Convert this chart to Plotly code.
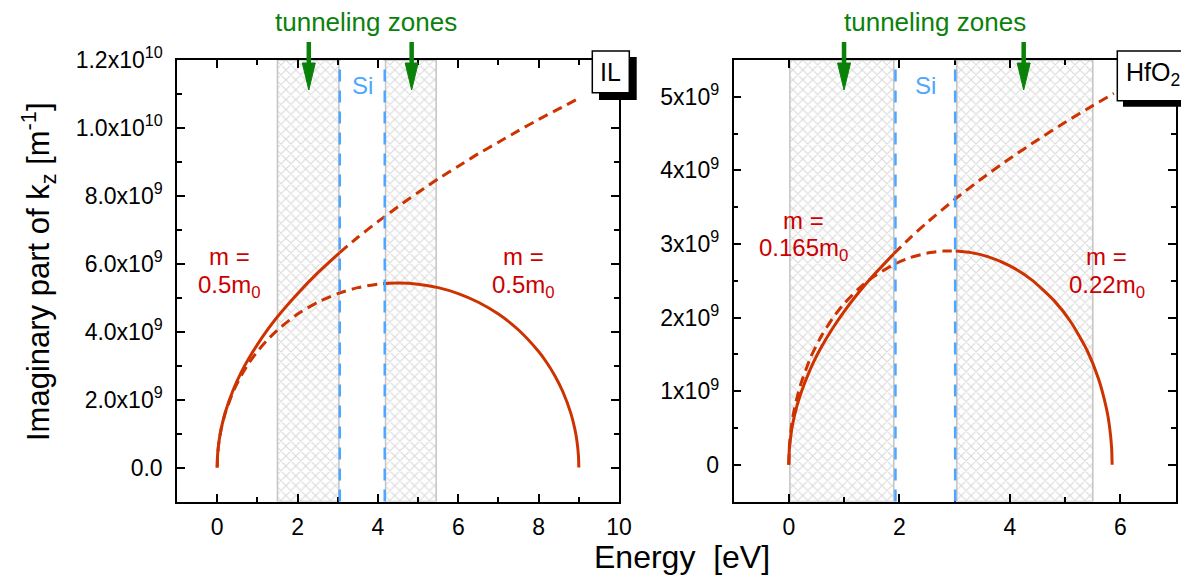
import plotly.graph_objects as go

W, H = 1189, 581
OFF = 8  # default page body margin of the generated html
FW, FH = W - OFF, H - OFF
FONT = "Liberation Sans, Arial, sans-serif"
CURVE = "#CC3300"
LABEL_RED = "#CC0000"
GREEN = "#0a820a"
BLUE = "#4da6ff"

# ---------------- data: IL panel (m = 0.5 m0) ----------------
il_par_E_solid = [0, 0.01, 0.02, 0.05, 0.1, 0.2, 0.4, 0.6, 0.8, 1.0, 1.25, 1.5, 2.0, 2.5, 3.05]
il_par_k_solid = [0, 0.362e9, 0.512e9, 0.81e9, 1.145e9, 1.62e9, 2.29e9, 2.81e9, 3.24e9, 3.62e9,
                  4.05e9, 4.44e9, 5.12e9, 5.73e9, 6.33e9]
il_par_E_dash = [3.05, 3.5, 4.0, 4.5, 5.0, 5.5, 6.0, 6.5, 7.0, 7.5, 8.0, 8.5, 9.0]
il_par_k_dash = [6.33e9, 6.78e9, 7.24e9, 7.68e9, 8.10e9, 8.50e9, 8.87e9, 9.24e9, 9.58e9,
                 9.92e9, 10.25e9, 10.56e9, 10.87e9]
il_tb_E_dash = [0, 0.01, 0.05, 0.1, 0.2, 0.4, 0.6, 0.8, 1.0, 1.25, 1.5, 2.0, 2.5, 3.0, 3.5, 4.0, 4.17]
il_tb_k_dash = [0, 0.362e9, 0.808e9, 1.139e9, 1.602e9, 2.239e9, 2.711e9, 3.093e9, 3.415e9,
                3.758e9, 4.050e9, 4.518e9, 4.867e9, 5.123e9, 5.298e9, 5.400e9, 5.419e9]
il_tb_E_solid = [4.17, 4.5, 5.0, 5.5, 6.0, 6.5, 7.0, 7.5, 8.0, 8.2, 8.4, 8.6, 8.8, 8.9, 8.95, 8.99, 9.0]
il_tb_k_solid = [5.419e9, 5.433e9, 5.400e9, 5.298e9, 5.123e9, 4.867e9, 4.518e9, 4.050e9,
                 3.415e9, 3.093e9, 2.711e9, 2.239e9, 1.602e9, 1.139e9, 0.808e9, 0.362e9, 0]
il_zones = [(1.5, 3.03), (4.19, 5.45)]
il_si_edges = [3.05, 4.17]
il_arrows = [2.28, 4.84]

# ---------------- data: HfO2 panel ----------------
hf_par_E_solid = [0, 0.01, 0.05, 0.1, 0.2, 0.4, 0.6, 0.8, 1.0, 1.25, 1.5, 1.9]
hf_par_k_solid = [0, 0.208e9, 0.465e9, 0.658e9, 0.931e9, 1.316e9, 1.612e9, 1.861e9, 2.081e9,
                  2.326e9, 2.548e9, 2.868e9]
hf_par_E_dash = [1.9, 2.2, 2.5, 3.0, 3.5, 4.0, 4.5, 5.0, 5.5, 5.88]
hf_par_k_dash = [2.868e9, 3.086e9, 3.290e9, 3.604e9, 3.893e9, 4.162e9, 4.414e9, 4.653e9,
                 4.880e9, 5.046e9]
hf_tb_E_dash = [0, 0.01, 0.05, 0.1, 0.2, 0.4, 0.6, 0.8, 1.0, 1.25, 1.5, 1.9, 2.2, 2.5, 2.8, 3.02]
hf_tb_k_dash = [0, 0.240e9, 0.535e9, 0.753e9, 1.056e9, 1.467e9, 1.763e9, 1.997e9, 2.188e9,
                2.382e9, 2.538e9, 2.721e9, 2.815e9, 2.875e9, 2.903e9, 2.904e9]
hf_tb_E_solid = [3.02, 3.3, 3.6, 4.0, 4.4, 4.8, 5.1, 5.4, 5.6, 5.75, 5.8, 5.84, 5.85]
hf_tb_k_solid = [2.904e9, 2.882e9, 2.827e9, 2.702e9, 2.509e9, 2.230e9, 1.943e9, 1.549e9,
                 1.175e9, 0.753e9, 0.535e9, 0.240e9, 0]
hf_zones = [(0.02, 1.9), (3.04, 5.5)]
hf_si_edges = [1.93, 3.01]
hf_arrows = [1.0, 4.25]

# tick labels
il_yvals = [0, 2e9, 4e9, 6e9, 8e9, 1e10, 1.2e10]
il_ytext = ["0.0", "2.0x10<sup>9</sup>", "4.0x10<sup>9</sup>", "6.0x10<sup>9</sup>",
            "8.0x10<sup>9</sup>", "1.0x10<sup>10</sup>", "1.2x10<sup>10</sup>"]
hf_yvals = [0, 1e9, 2e9, 3e9, 4e9, 5e9]
hf_ytext = ["0", "1x10<sup>9</sup>", "2x10<sup>9</sup>", "3x10<sup>9</sup>",
            "4x10<sup>9</sup>", "5x10<sup>9</sup>"]
il_xvals = [0, 2, 4, 6, 8, 10]
hf_xvals = [0, 2, 4, 6]

IL_XR, IL_YR = [-1, 10], [-1e9, 1.2e10]
HF_XR, HF_YR = [-1, 7], [-0.5e9, 5.5e9]


def px(x):
    return (x - OFF) / FW


def py(y):
    return 1 - (y - OFF) / FH


fig = go.Figure()


def add_panel(xa, ya, zones, yr, curves):
    for (a, b) in zones:
        fig.add_trace(go.Scatter(
            x=[a, b, b, a, a], y=[yr[0], yr[0], yr[1], yr[1], yr[0]],
            xaxis=xa, yaxis=ya, mode="lines", fill="toself",
            fillcolor="rgba(0,0,0,0)",
            line=dict(color="#c4c4c4", width=1.5),
            fillpattern=dict(shape="x", fgcolor="#b4b4b4", bgcolor="rgba(255,255,255,0)",
                             size=7, solidity=0.3),
            hoverinfo="skip", showlegend=False))
    for (xs, ys, dash) in curves:
        fig.add_trace(go.Scatter(
            x=xs, y=ys, xaxis=xa, yaxis=ya, mode="lines",
            line=dict(color=CURVE, width=3, dash=dash, shape="spline", smoothing=0.6),
            showlegend=False))


add_panel("x", "y", il_zones, IL_YR, [
    (il_tb_E_dash, il_tb_k_dash, "10px,6px"),
    (il_tb_E_solid, il_tb_k_solid, "solid"),
    (il_par_E_dash, il_par_k_dash, "10px,6px"),
    (il_par_E_solid, il_par_k_solid, "solid"),
])
add_panel("x2", "y2", hf_zones, HF_YR, [
    (hf_tb_E_dash, hf_tb_k_dash, "10px,6px"),
    (hf_tb_E_solid, hf_tb_k_solid, "solid"),
    (hf_par_E_dash, hf_par_k_dash, "10px,6px"),
    (hf_par_E_solid, hf_par_k_solid, "solid"),
])

axis_common = dict(showline=True, linecolor="black", linewidth=1.5, mirror="allticks",
                   ticks="inside", ticklen=8, tickwidth=1.5, tickcolor="black",
                   showgrid=False, zeroline=False, automargin=False,
                   tickfont=dict(family=FONT, size=23, color="black"))
ydom = [py(501.5), py(60)]
fig.update_layout(
    xaxis=dict(domain=[px(177), px(619)], range=IL_XR, tickvals=il_xvals, anchor="y",
               minor=dict(dtick=1, tick0=0, ticks="inside", ticklen=5, tickwidth=1.5,
                          tickcolor="black"), ticklabelstandoff=4, **axis_common),
    yaxis=dict(domain=ydom, range=IL_YR, tickvals=il_yvals, ticktext=il_ytext, anchor="x",
               minor=dict(dtick=1e9, tick0=0, ticks="inside", ticklen=5, tickwidth=1.5,
                          tickcolor="black"), ticklabelstandoff=8, **axis_common),
    xaxis2=dict(domain=[px(733.5), px(1175.7)], range=HF_XR, tickvals=hf_xvals, anchor="y2",
                minor=dict(dtick=1, tick0=0, ticks="inside", ticklen=5, tickwidth=1.5,
                           tickcolor="black"), ticklabelstandoff=4, **axis_common),
    yaxis2=dict(domain=ydom, range=HF_YR, tickvals=hf_yvals, ticktext=hf_ytext, anchor="x2",
                minor=dict(dtick=0.5e9, tick0=0, ticks="inside", ticklen=5, tickwidth=1.5,
                           tickcolor="black"), ticklabelstandoff=8, **axis_common),
)

shapes = []
annotations = []

# Si band-edge dashed lines
for xa, edges in (("x", il_si_edges), ("x2", hf_si_edges)):
    for e in edges:
        shapes.append(dict(type="line", xref=xa, yref=("y domain" if xa == "x" else "y2 domain"),
                           x0=e, x1=e, y0=0, y1=1,
                           line=dict(color=BLUE, width=2.5, dash="12px,9px")))
    annotations.append(dict(xref=xa, yref="paper", x=sum(edges) / 2, y=py(85), text="Si",
                            showarrow=False, font=dict(family=FONT, size=24, color=BLUE),
                            xanchor="center", yanchor="middle"))

# green arrows
for xa, arr in (("x", il_arrows), ("x2", hf_arrows)):
    for a in arr:
        shapes.append(dict(type="line", xref=xa, xsizemode="pixel", xanchor=a, x0=0, x1=0,
                           yref="paper", ysizemode="pixel", yanchor=py(90), y0=20, y1=48,
                           line=dict(color=GREEN, width=4.5)))
        shapes.append(dict(type="path", xref=xa, xsizemode="pixel", xanchor=a,
                           yref="paper", ysizemode="pixel", yanchor=py(90),
                           path="M -6.5,27 L 6.5,27 L 0,0 Z",
                           fillcolor=GREEN, line=dict(color=GREEN, width=1)))

for cx in (365.7, 935.4):
    annotations.append(dict(xref="paper", yref="paper", x=px(cx), y=py(22),
                            text="tunneling zones", showarrow=False,
                            font=dict(family=FONT, size=26, color=GREEN),
                            xanchor="center", yanchor="middle"))

# mass labels
mass_labels = [(229.5, 256.7, "m ="), (229.5, 286.7, "0.5m<sub>0</sub>"),
               (523.8, 256.7, "m ="), (523.8, 286.7, "0.5m<sub>0</sub>"),
               (803.3, 220, "m ="), (803.3, 250, "0.165m<sub>0</sub>"),
               (1106.5, 256.7, "m ="), (1106.5, 286.7, "0.22m<sub>0</sub>")]
for (cx, cy, t) in mass_labels:
    annotations.append(dict(xref="paper", yref="paper", x=px(cx), y=py(cy), text=t,
                            showarrow=False, font=dict(family=FONT, size=24, color=LABEL_RED),
                            xanchor="center", yanchor="middle"))

# material boxes with shadow
shapes.append(dict(type="rect", xref="paper", yref="paper", x0=px(599), x1=px(636.7),
                   y0=py(100), y1=py(57), fillcolor="black", line=dict(width=0)))
shapes.append(dict(type="rect", xref="paper", yref="paper", x0=px(592.3), x1=px(629.3),
                   y0=py(92.7), y1=py(51), fillcolor="white",
                   line=dict(color="black", width=1.5)))
shapes.append(dict(type="rect", xref="paper", yref="paper", x0=px(1123), x1=px(1200),
                   y0=py(106.7), y1=py(57), fillcolor="black", line=dict(width=0)))
shapes.append(dict(type="rect", xref="paper", yref="paper", x0=px(1117.3), x1=px(1200),
                   y0=py(100.7), y1=py(51), fillcolor="white",
                   line=dict(color="black", width=1.5)))
annotations.append(dict(xref="paper", yref="paper", x=px(610.8), y=py(72), text="IL",
                        showarrow=False, font=dict(family=FONT, size=25, color="black"),
                        xanchor="center", yanchor="middle"))
annotations.append(dict(xref="paper", yref="paper", x=px(1153), y=py(74),
                        text="HfO<sub>2</sub>", showarrow=False,
                        font=dict(family=FONT, size=25, color="black"),
                        xanchor="center", yanchor="middle"))

# axis titles
annotations.append(dict(xref="paper", yref="paper", x=px(682), y=py(557),
                        text="Energy&nbsp; [eV]", showarrow=False,
                        font=dict(family=FONT, size=32, color="black"),
                        xanchor="center", yanchor="middle"))
annotations.append(dict(xref="paper", yref="paper", x=px(38), y=py(272),
                        text="Imaginary part of k<sub>z</sub> [m<sup>-1</sup>]",
                        showarrow=False, textangle=-90,
                        font=dict(family=FONT, size=31, color="black"),
                        xanchor="center", yanchor="middle"))

fig.update_layout(shapes=shapes, annotations=annotations,
                  width=FW, height=FH,
                  margin=dict(l=0, r=0, t=0, b=0, pad=0, autoexpand=False),
                  paper_bgcolor="white", plot_bgcolor="white", showlegend=False,
                  font=dict(family=FONT))

fig.write_html("out.html")
